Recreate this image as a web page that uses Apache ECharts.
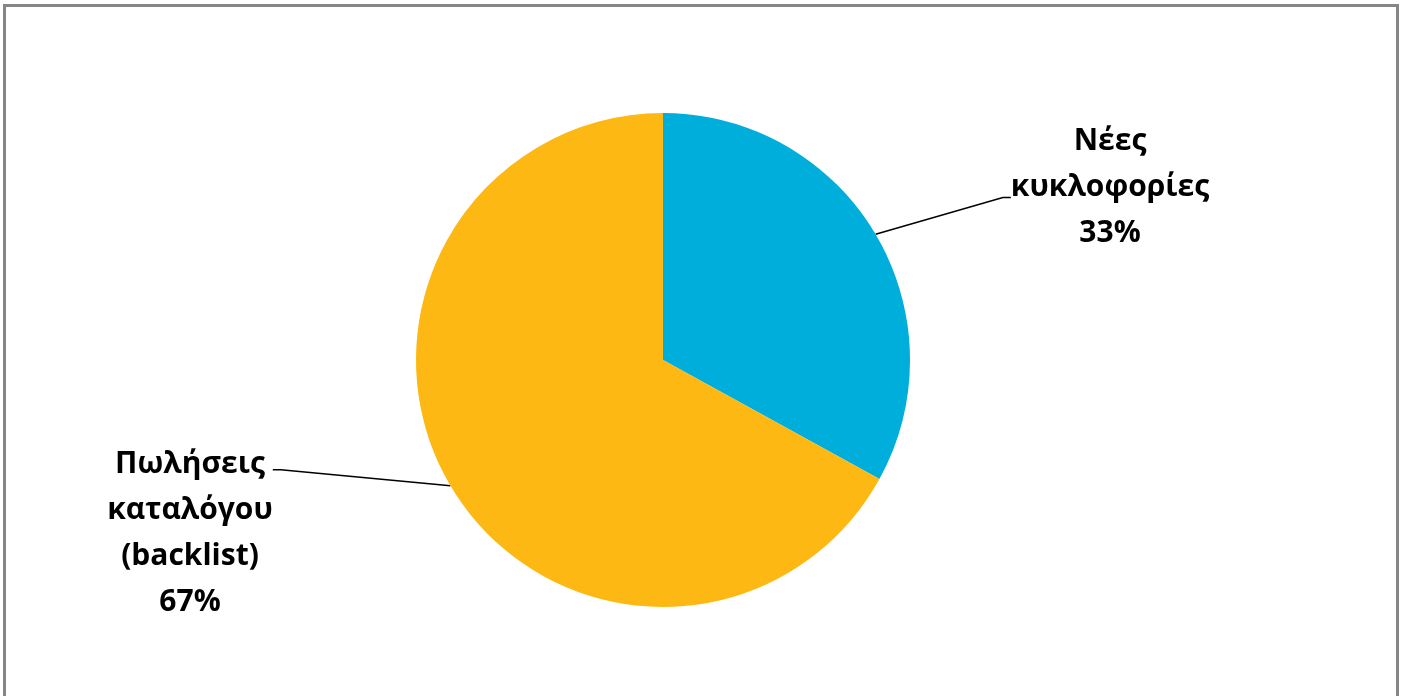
<!DOCTYPE html>
<html>
<head>
<meta charset="utf-8">
<script src="https://cdn.jsdelivr.net/npm/echarts@6/dist/echarts.min.js"></script>
<style>
html,body{margin:0;padding:0;background:#fff;width:1403px;height:696px;overflow:hidden;}
#frame{position:absolute;left:3px;top:4px;width:1390px;height:720px;border:3px solid #868686;border-bottom:none;box-sizing:content-box;}
#chart{position:absolute;left:0;top:0;width:1403px;height:696px;}
</style>
</head>
<body>
<div id="frame"></div>
<div id="chart"></div>
<script>
const categories = ['Νέες\nκυκλοφορίες', 'Πωλήσεις\nκαταλόγου\n(backlist)'];
const values = [33, 67];
const colors = ['#00AEDB', '#FDB813'];
// label placement (label block centres)
const labelAnchors = [[1110, 195], [190, 419]];

const chart = echarts.init(document.getElementById('chart'), null, {renderer: 'canvas'});
chart.setOption({
  animation: false,
  series: [{
    type: 'pie',
    center: [663, 360],
    radius: 247,
    startAngle: 90,
    clockwise: true,
    data: categories.map((c, i) => ({name: c, value: values[i], itemStyle: {color: colors[i]}})),
    label: {
      show: true,
      formatter: p => {
        const lines = (p.name + '\n' + Math.round(p.percent) + '%').split('\n').map(t => '{a|' + t + '}');
        // spacer lines shift where the leader line meets the label block
        return p.dataIndex === 0 ? lines.join('\n') + '\n{s1| }' : '{s2| }\n' + lines.join('\n');
      },
      align: 'center',
      rich: {
        a: {fontFamily: 'Open Sans', fontWeight: 'bold', fontSize: 30, lineHeight: 46, color: '#000', align: 'center'},
        s1: {fontSize: 10, lineHeight: 16},
        s2: {fontSize: 10, lineHeight: 229}
      }
    },
    labelLine: {show: true, lineStyle: {color: '#000', width: 1.5}, length: 20, length2: 8},
    labelLayout: function (p) {
      const c = labelAnchors[p.dataIndex];
      return {x: c[0], y: c[1], align: 'center', verticalAlign: 'middle'};
    }
  }]
});
</script>
</body>
</html>
